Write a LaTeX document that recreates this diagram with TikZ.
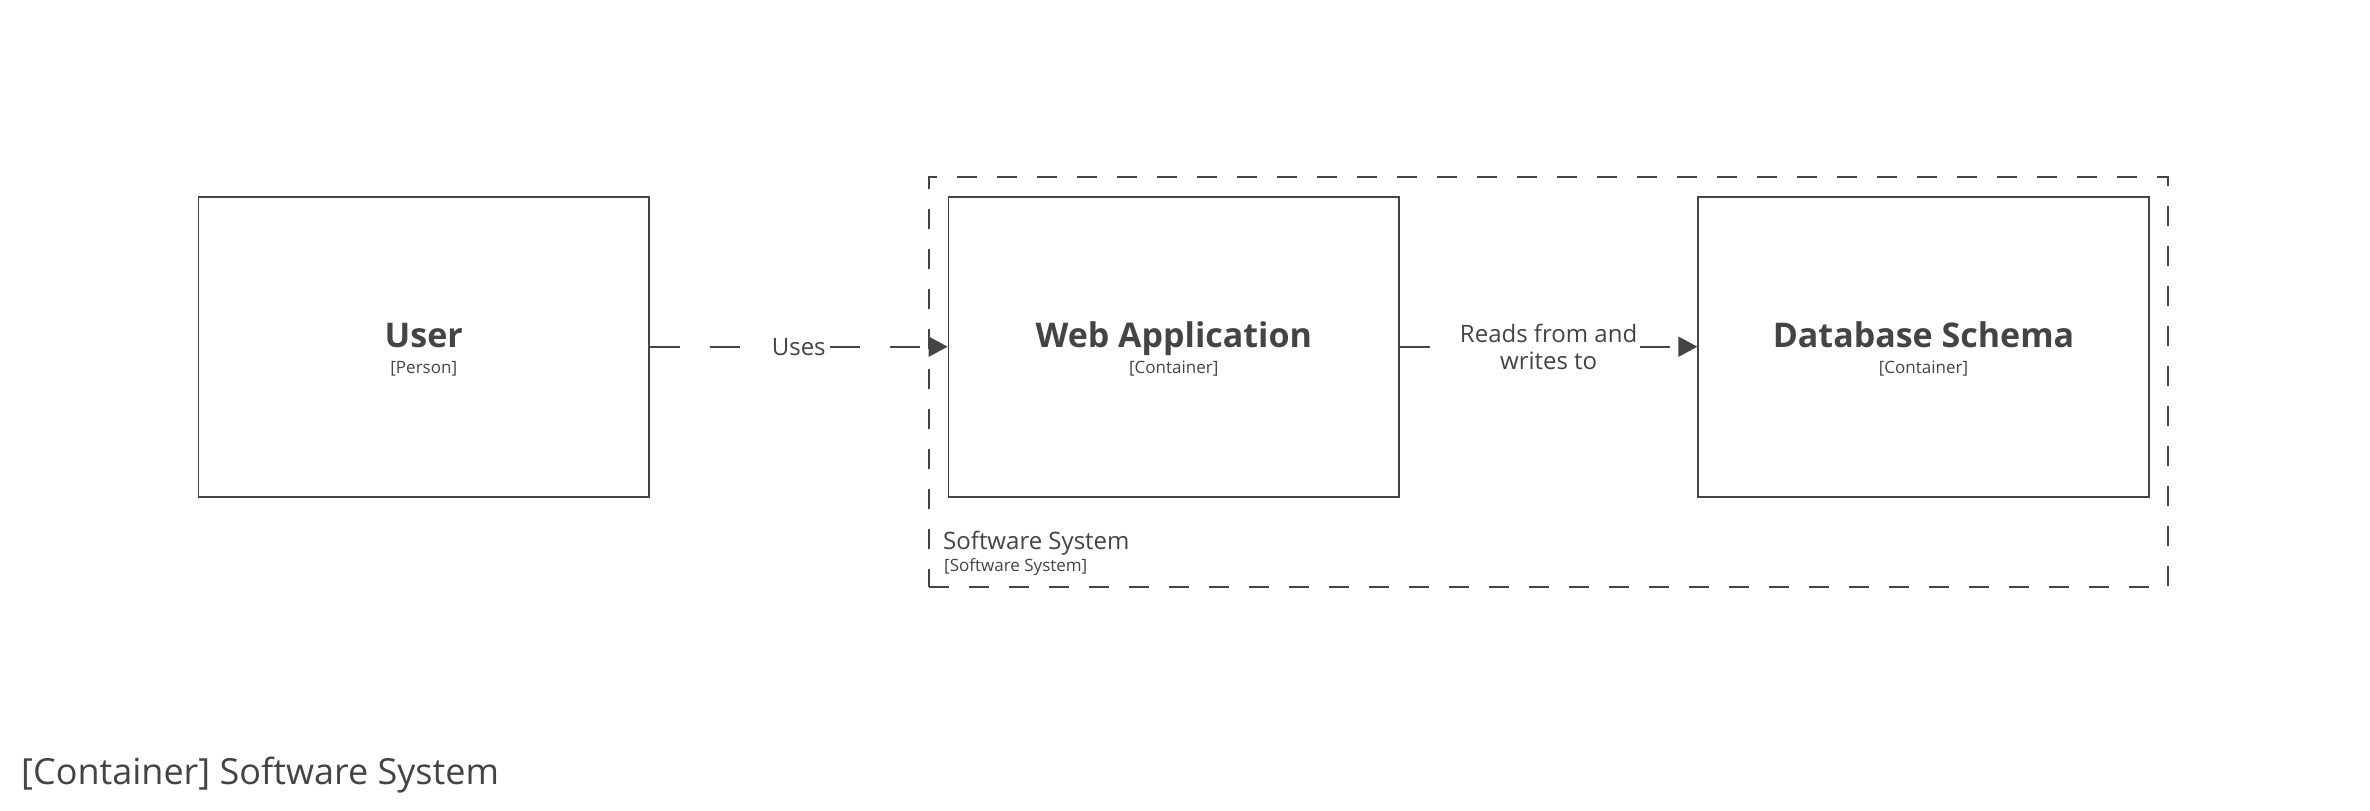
\documentclass[tikz,border=0pt]{standalone}
\usepackage{fontspec}
\setmainfont{Open Sans}
\usetikzlibrary{arrows.meta}
\definecolor{ink}{HTML}{444444}
\tikzset{
  px/.style={x=1pt,y=-1pt},
  cbox/.style={draw=ink, line width=1.8pt, minimum width=450.5pt, minimum height=300pt, inner sep=0pt, fill=white},
  bnd/.style={draw=ink, line width=1.8pt, dash pattern=on 20pt off 20pt, minimum width=1239pt, minimum height=410pt, inner sep=0pt},
  ttl/.style={text=ink, anchor=base, inner sep=0pt, font=\bfseries\fontsize{34}{38}\selectfont},
  sub/.style={text=ink, anchor=base, inner sep=0pt, font=\fontsize{17}{20}\selectfont},
  conn/.style={draw=ink, line width=1.8pt, dash pattern=on 30pt off 30pt, -{Triangle[length=19pt,width=20pt]}},
  lbl/.style={text=ink, fill=white, inner xsep=1.5pt, inner ysep=1pt, align=center, font=\fontsize{24}{26.8}\selectfont},
}
\begin{document}
\begin{tikzpicture}[px]
\useasboundingbox (0,0) rectangle (2370,811);
% boundary
\node[bnd] (sys) at (1548.5,381.7) {};
\node[text=ink, anchor=base west, inner sep=0pt, font=\fontsize{24}{26}\selectfont] (syslbl) at (943,549) {Software System};
\node[sub, anchor=base west] (systype) at (944,571.5) {[Software System]};
% boxes
\node[cbox] (user) at (423.75,346.7) {};
\node[cbox] (web) at (1173.75,346.7) {};
\node[cbox] (db) at (1923.5,346.7) {};
\node[ttl] (usert) at ([yshift=-0.3pt]user.center) {User};
\node[sub] (users) at ([yshift=-26.5pt]user.center) {[Person]};
\node[ttl] (webt) at ([yshift=-0.3pt]web.center) {Web Application};
\node[sub] (webs) at ([yshift=-26.5pt]web.center) {[Container]};
\node[ttl] (dbt) at ([yshift=-0.3pt]db.center) {Database Schema};
\node[sub] (dbs) at ([yshift=-26.5pt]db.center) {[Container]};
% connectors
\draw[conn] (user.east) -- node[lbl] (uses) {Uses} (web.west);
\draw[conn] (web.east) -- node[lbl] (rw) {Reads from and\\writes to} (db.west);
% title
\node[text=ink, anchor=base west, inner sep=0pt, font=\fontsize{36}{40}\selectfont] (title) at (21,784) {[Container] Software System};
\end{tikzpicture}
\end{document}
